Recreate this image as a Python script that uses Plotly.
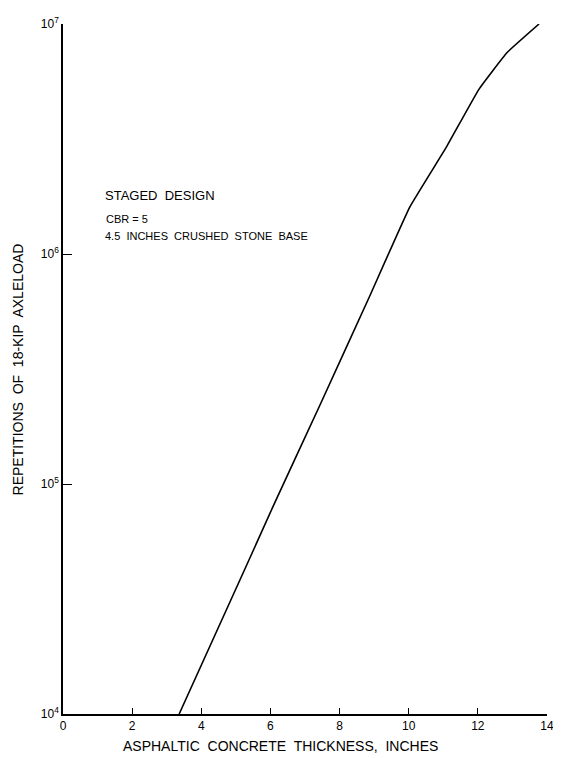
import plotly.graph_objects as go

# staged design curve
thickness = [3.36, 5.33, 6.11, 7.43, 8.86, 10.03, 11.08, 12.03, 12.84, 13.77]
repetitions = [1.0e4, 4.5e4, 8.2e4, 2.2e5, 6.5e5, 1.6e6, 2.9e6, 5.2e6, 7.5e6, 1.0e7]

x_ticks = [0, 2, 4, 6, 8, 10, 12, 14]
y_ticks = [1e4, 1e5, 1e6, 1e7]
y_ticktext = ["10<sup>4</sup>", "10<sup>5</sup>", "10<sup>6</sup>", "10<sup>7</sup>"]

font = "Liberation Sans, Arial, sans-serif"

fig = go.Figure()
fig.add_trace(go.Scatter(x=thickness, y=repetitions, mode="lines",
                         line=dict(color="black", width=1.6, shape="spline", smoothing=0.3),
                         showlegend=False, hoverinfo="skip"))

fig.update_xaxes(range=[0, 14], tickvals=x_ticks, ticks="inside", ticklen=6,
                 tickcolor="black", showline=True, linecolor="black", linewidth=1.5,
                 showgrid=False, zeroline=False, tickfont=dict(size=12, color="black"),
                 ticklabeloverflow="allow")
fig.update_yaxes(type="log", range=[4, 7], tickvals=y_ticks, ticktext=y_ticktext,
                 ticks="inside", ticklen=9, tickcolor="black",
                 showline=True, linecolor="black", linewidth=1.5,
                 showgrid=False, zeroline=False, tickfont=dict(size=12, color="black"),
                 ticklabeloverflow="allow")

# axis titles
fig.add_annotation(text="ASPHALTIC  CONCRETE  THICKNESS,  INCHES", xref="paper", yref="paper",
                   x=0.45, y=-0.047, showarrow=False, font=dict(size=14, color="black"),
                   xanchor="center", yanchor="middle")
fig.add_annotation(text="REPETITIONS  OF  18-KIP  AXLELOAD", xref="paper", yref="paper",
                   x=-0.092, y=0.5, textangle=-90, showarrow=False,
                   font=dict(size=14, color="black"), xanchor="center", yanchor="middle")

# notes
fig.add_annotation(text="STAGED  DESIGN", xref="paper", yref="paper", x=0.082, y=0.752,
                   showarrow=False, xanchor="left", yanchor="middle", font=dict(size=13, color="black"))
fig.add_annotation(text="CBR = 5", xref="paper", yref="paper", x=0.084, y=0.718,
                   showarrow=False, xanchor="left", yanchor="middle", font=dict(size=11, color="black"))
fig.add_annotation(text="4.5  INCHES  CRUSHED  STONE  BASE", xref="paper", yref="paper", x=0.082, y=0.693,
                   showarrow=False, xanchor="left", yanchor="middle", font=dict(size=11, color="black"))

# page body adds an 8px margin, so the figure is a bit smaller than the window
fig.update_layout(width=553, height=750, margin=dict(l=55, r=7, t=8, b=44),
                  plot_bgcolor="white", paper_bgcolor="white", font=dict(family=font))

fig.write_html("out.html")
